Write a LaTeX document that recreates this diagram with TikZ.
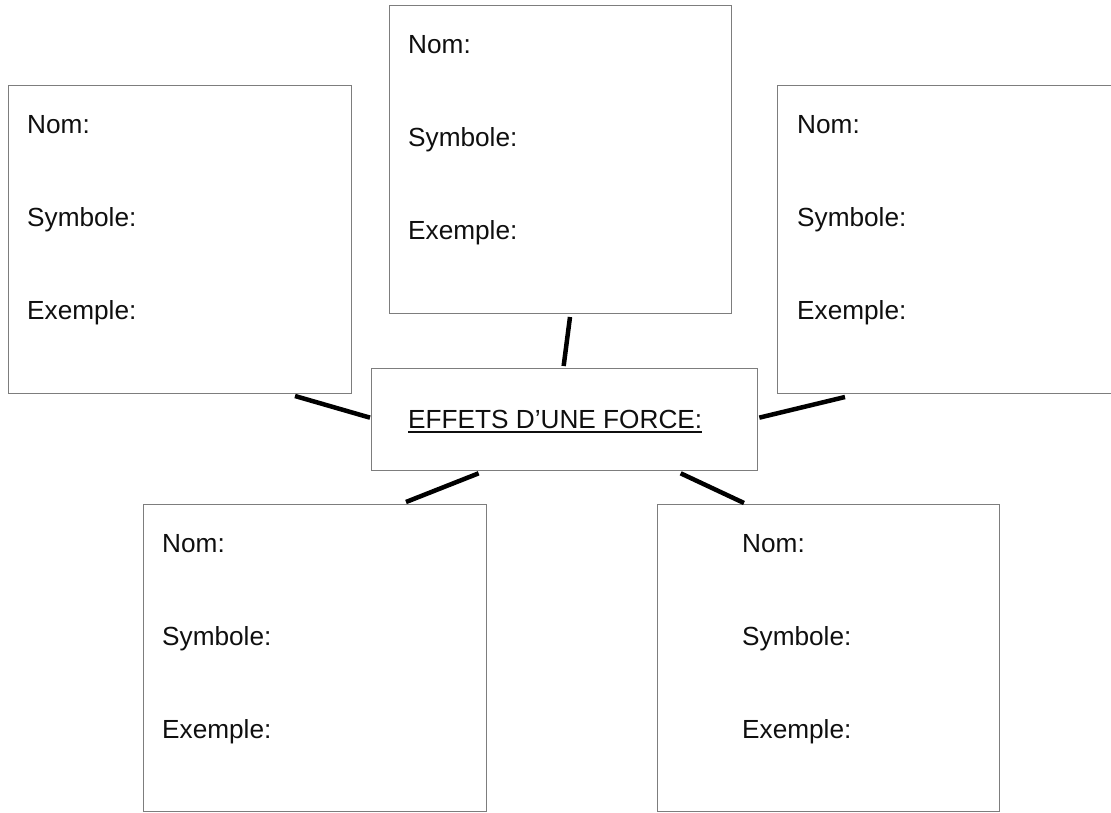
\documentclass[tikz,border=0pt]{standalone}
\usepackage{fontspec}
\setmainfont{Liberation Sans}
\usetikzlibrary{calc}
\definecolor{boxgray}{RGB}{125,125,125}
\definecolor{txt}{RGB}{15,15,15}
\newcommand\myuline[1]{\setbox0\hbox{#1}\rlap{\rule[-5pt]{\wd0}{2pt}}\box0}
\tikzset{
  box/.style={draw=boxgray, line width=1.3pt, rectangle, inner sep=0pt, anchor=north west},
  lbl/.style={anchor=base west, inner sep=0pt, text=txt, font=\fontsize{26.2}{31}\selectfont},
  conn/.style={draw=black, line width=4.5pt},
}
\begin{document}
\begin{tikzpicture}[x=1pt,y=-1pt]
\clip (0,0) rectangle (1111,812);
\fill[white] (0,0) rectangle (1111,812);
% boxes
\node[box, minimum width=343pt, minimum height=308pt] (L) at (8,85) {};
\node[box, minimum width=342pt, minimum height=308pt] (T) at (389,5) {};
\node[box, minimum width=400pt, minimum height=308pt] (R) at (777,85) {};
\node[box, minimum width=386pt, minimum height=102pt] (C) at (371,368) {};
\node[box, minimum width=343pt, minimum height=307pt] (BL) at (143,504) {};
\node[box, minimum width=342pt, minimum height=307pt] (BR) at (657,504) {};
% labels
\node[lbl] (Ln) at ($(L.north west)+(19,48)$) {Nom:};
\node[lbl] (Ls) at ($(L.north west)+(19,141)$) {Symbole:};
\node[lbl] (Le) at ($(L.north west)+(19,234)$) {Exemple:};
\node[lbl] (Tn) at ($(T.north west)+(19,48)$) {Nom:};
\node[lbl] (Ts) at ($(T.north west)+(19,141)$) {Symbole:};
\node[lbl] (Te) at ($(T.north west)+(19,234)$) {Exemple:};
\node[lbl] (Rn) at ($(R.north west)+(20,48)$) {Nom:};
\node[lbl] (Rs) at ($(R.north west)+(20,141)$) {Symbole:};
\node[lbl] (Re) at ($(R.north west)+(20,234)$) {Exemple:};
\node[lbl] (BLn) at ($(BL.north west)+(19,48)$) {Nom:};
\node[lbl] (BLs) at ($(BL.north west)+(19,141)$) {Symbole:};
\node[lbl] (BLe) at ($(BL.north west)+(19,234)$) {Exemple:};
\node[lbl] (BRn) at ($(BR.north west)+(85,48)$) {Nom:};
\node[lbl] (BRs) at ($(BR.north west)+(85,141)$) {Symbole:};
\node[lbl] (BRe) at ($(BR.north west)+(85,234)$) {Exemple:};
\node[lbl] (title) at ($(C.north west)+(37,60)$) {\myuline{EFFETS D’UNE FORCE:}};
% connectors
\coordinate (cT) at (570,317);
\coordinate (cL) at (295,396);
\coordinate (cR) at (845,397);
\coordinate (cBL) at (406,502);
\coordinate (cBR) at (744,503);
\draw[conn] (cT) -- ($(C.north)+(-1,-2)$);
\draw[conn] (cL) -- ($(C.west)+(-1,-2)$);
\draw[conn] ($(C.east)+(1,-2)$) -- (cR);
\draw[conn] ($(C.south)+(-86,2)$) -- (cBL);
\draw[conn] ($(C.south)+(116,2)$) -- (cBR);
\end{tikzpicture}
\end{document}
